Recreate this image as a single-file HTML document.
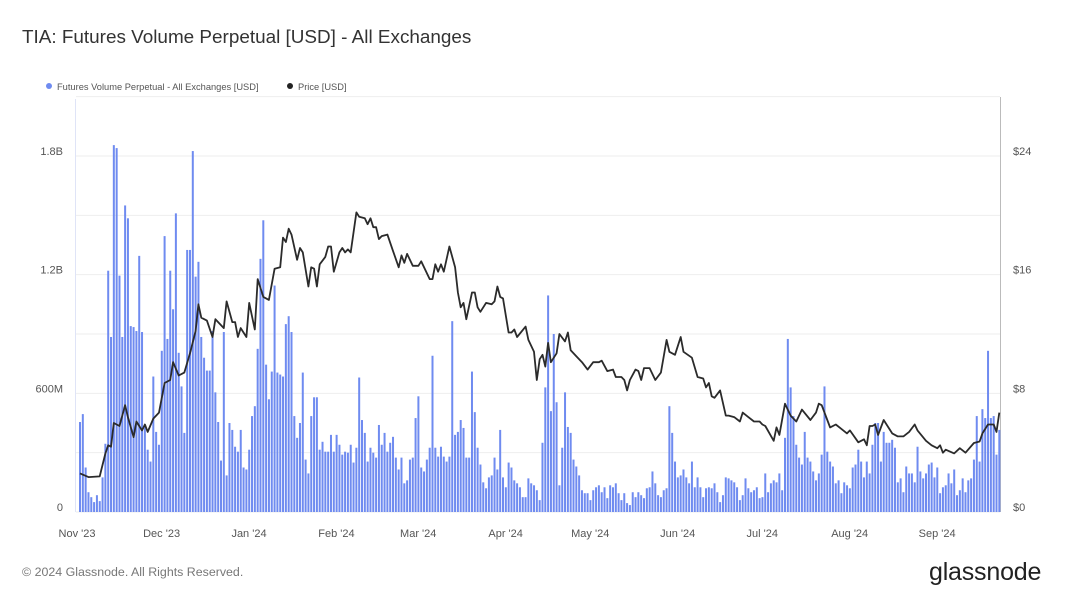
<!DOCTYPE html>
<html><head><meta charset="utf-8">
<style>
body{margin:0;background:#fff;font-family:"Liberation Sans",sans-serif;}
#wrap{position:relative;width:1066px;height:600px;overflow:hidden;background:#fff;}
.t{position:absolute;white-space:nowrap;}
</style></head>
<body>
<div id="wrap">
<div class="t" style="left:22px;top:27px;font-size:18.9px;color:#333;">TIA: Futures Volume Perpetual [USD] - All Exchanges</div>
<div class="t" style="left:46px;top:82px;font-size:9.3px;color:#555;"><span style="display:inline-block;width:6px;height:6px;border-radius:3px;background:#6f8bf0;margin-right:5px;vertical-align:1px;"></span>Futures Volume Perpetual - All Exchanges [USD]</div>
<div class="t" style="left:287px;top:82px;font-size:9.3px;color:#555;"><span style="display:inline-block;width:6px;height:6px;border-radius:3px;background:#222;margin-right:5px;vertical-align:1px;"></span>Price [USD]</div>
<svg id="chart" width="1066" height="600" style="position:absolute;left:0;top:0;"></svg>
<div class="t" style="left:22px;top:565px;font-size:12.4px;color:#777;">© 2024 Glassnode. All Rights Reserved.</div>
<div class="t" style="left:929px;top:558px;font-size:25px;color:#222;letter-spacing:-0.2px;">glassnode</div>
</div>
<script>
const volumes=[455,495,225,100,75,50,85,55,175,345,
1220,885,1855,1840,1195,885,1550,1485,940,935,
915,1295,910,430,315,255,685,405,340,815,
1395,875,1220,1025,1510,805,635,400,1325,1325,
1825,1190,1265,885,780,715,715,915,605,455,
260,910,185,450,415,330,305,415,225,215,
315,485,535,825,
1280,1475,745,570,710,1145,705,695,685,950,990,910,485,375,450,705,265,195,485,580,580,315,355,305,305,390,305,390,340,290,305,300,340,250,325,680,465,400,255,325,300,275,440,340,400,305,350,380,275,215,275,145,160,265,275,475,585,225,205,265,325,790,325,280,330,280,255,280,
965,390,405,465,425,275,275,710,505,325,240,150,120,175,185,275,215,415,175,125,250,225,160,145,125,75,75,170,145,135,110,60,350,630,1095,510,900,555,135,325,605,430,400,265,230,185,110,95,95,60,110,125,135,100,125,70,135,125,145,95,60,95,45,35,100,75,100,
85,70,120,125,205,145,85,75,110,120,535,400,255,175,185,215,175,145,255,125,175,125,75,120,125,120,145,100,50,85,175,170,160,150,125,60,85,170,120,100,110,125,70,75,195,100,145,160,150,195,110,375,875,630,485,340,275,240,405,275,255,205,160,195,
290,635,305,255,230,145,160,95,150,135,120,225,240,315,255,175,255,195,340,450,450,255,405,350,350,365,325,150,170,100,230,195,195,150,330,205,170,195,240,250,175,225,95,125,135,195,145,215,85,110,170,100,160,170,265,485,255,520,475,815,475,485,290,415];
const priceDays=[0,3,7,9,10,11,12,14,16,17,19,20,22,23,24,26,28,30,32,33,35,37,39,41,42,43,45,47,48,51,52,54,55,56,57,59,60,62,63,65,67,69,71,72,73,74,75,77,78,79,81,82,83,84,85,87,88,89,90,92,93,94,95,96,98,99,101,102,103,104,105,106,107,109,111,113,114,115,116,118,120,121,124,125,126,127,128,129,131,133,134,135,136,137,139,140,141,142,144,146,147,148,149,150,152,153,154,155,158,159,161,162,163,164,165,166,167,169,170,172,173,174,176,178,180,182,184,185,187,189,190,192,193,194,195,197,198,199,200,202,204,206,208,209,211,213,214,217,219,221,222,223,224,225,227,229,230,232,234,235,237,239,241,242,243,246,247,248,250,252,254,256,259,261,262,263,265,266,268,270,272,273,276,278,279,280,281,282,283,285,288,290,292,294,296,297,300,302,304,305,306,307,310,312,314,317,319,320,322,324,325,326];
const prices=[2.6,2.35,2.4,3.95,4.5,4.4,6.0,5.8,7.2,6.4,5.05,6.1,5.5,5.9,5.4,6.3,6.7,8.7,8.9,10.1,9.2,9.4,10.7,12.2,14.0,13.1,12.9,11.8,13.0,12.4,14.2,12.8,12.8,11.8,12.4,11.8,14.1,12.3,15.7,14.5,14.3,16.4,16.5,18.5,18.2,19.1,18.7,17.0,17.8,17.5,15.2,16.5,16.4,15.2,16.7,17.2,17.9,17.9,16.2,17.5,17.8,17.5,17.7,17.5,20.2,19.9,19.8,19.4,19.8,19.2,19.2,18.4,18.6,18.7,17.6,16.5,17.3,16.8,17.4,16.6,16.6,16.9,15.7,15.7,16.7,16.2,16.7,16.2,17.9,16.5,14.8,13.8,14.1,13.0,14.8,14.8,13.8,13.5,14.1,14.0,14.2,15.2,14.5,14.4,12.1,12.1,12.3,11.8,12.5,11.6,10.8,8.9,10.3,10.6,9.8,11.4,10.1,10.7,12.0,11.5,12.1,10.9,10.5,10.1,9.6,10.1,10.1,10.2,9.5,9.6,9.1,9.1,8.9,8.2,8.9,9.6,9.5,8.9,9.7,9.7,8.9,9.4,11.6,10.8,10.6,11.8,10.8,10.4,9.1,9.0,8.4,8.7,7.8,7.7,8.2,6.5,6.5,6.4,6.1,6.7,6.4,6.1,6.1,5.9,5.8,4.8,5.7,5.2,7.3,6.5,6.1,6.9,6.2,6.7,7.3,7.2,6.2,5.7,5.9,5.6,5.3,5.5,4.7,4.9,4.5,5.8,5.8,5.9,5.2,6.2,5.3,5.1,5.1,5.4,5.9,5.5,4.8,4.5,4.3,4.5,4.0,4.2,3.95,4.3,4.0,4.65,4.75,5.3,5.9,5.9,5.4,6.7];
const leftTicks=[0,600,1200,1800];
const leftTickLabels=["0","600M","1.2B","1.8B"];
const rightTicks=[0,8,16,24];
const rightTickLabels=["$0","$8","$16","$24"];
const monthDays=[0,30,61,92,121,152,182,213,243,274,305];
const monthLabels=["Nov '23","Dec '23","Jan '24","Feb '24","Mar '24","Apr '24","May '24","Jun '24","Jul '24","Aug '24","Sep '24"];

const NS="http://www.w3.org/2000/svg";
const svg=document.getElementById('chart');
const X0=80,DX=2.82,BASE=512,TOP=99;
const xS=d=>X0+d*DX;
const yV=v=>BASE-v*356/1800;
const yP=p=>BASE-p*356/24;
function mk(tag,attrs){const e=document.createElementNS(NS,tag);for(const k in attrs)e.setAttribute(k,attrs[k]);svg.appendChild(e);return e;}

for(let g=0;g<=2100;g+=300){
  const l=mk('line',{x1:76,x2:1000,y1:yV(g),y2:yV(g),stroke:'#eeeeee','stroke-width':1});
  
  
}
const la=mk('line',{x1:75.5,x2:75.5,y1:TOP,y2:BASE,stroke:'#dfe4f7','stroke-width':1});


const ra=mk('line',{x1:1000.5,x2:1000.5,y1:TOP-2,y2:BASE,stroke:'#bbbbbb','stroke-width':1});



volumes.forEach((v,i)=>{
  const r=mk('rect',{x:xS(i)-1,y:yV(v),width:2,height:BASE-yV(v),fill:'#6f8bf0'});
  
  
});

const pts=priceDays.map((d,i)=>xS(d).toFixed(1)+','+yP(prices[i]).toFixed(1)).join(' ');
const pl=mk('polyline',{points:pts,fill:'none',stroke:'#2b2b2b','stroke-width':1.8,'stroke-linejoin':'round'});



leftTicks.forEach((t,i)=>{
  const e=mk('text',{x:63,y:yV(t)-1,'text-anchor':'end','font-size':11,fill:'#555','font-family':'Liberation Sans, sans-serif'});
  e.textContent=leftTickLabels[i];
  
  
});
rightTicks.forEach((t,i)=>{
  const e=mk('text',{x:1013,y:yP(t)-1,'text-anchor':'start','font-size':11,fill:'#555','font-family':'Liberation Sans, sans-serif'});
  e.textContent=rightTickLabels[i];
  
  
});
monthDays.forEach((d,i)=>{
  const e=mk('text',{x:xS(d)-3,y:537,'text-anchor':'middle','font-size':11,fill:'#555','font-family':'Liberation Sans, sans-serif'});
  e.textContent=monthLabels[i];
  
  
});
</script>
</body></html>
